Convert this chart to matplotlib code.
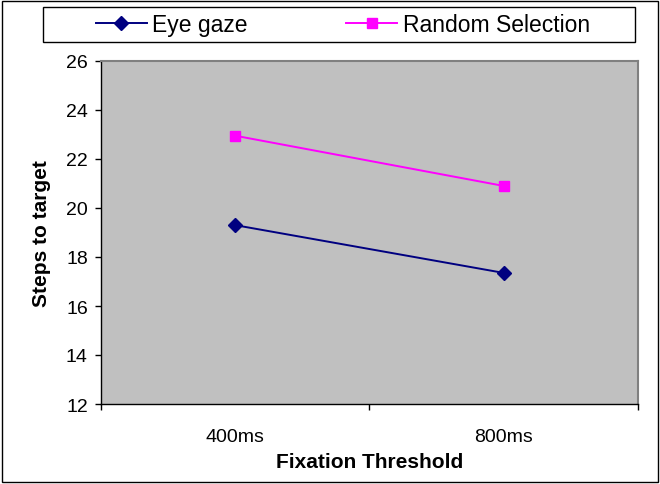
import matplotlib
matplotlib.use("Agg")
import matplotlib.pyplot as plt
from matplotlib.patches import Rectangle

# Data
thresholds = ["400ms", "800ms"]
eye_gaze = [19.3, 17.35]
random_selection = [22.95, 20.9]
y_ticks = [12, 14, 16, 18, 20, 22, 24, 26]

plt.rcParams["font.family"] = ["Liberation Sans", "DejaVu Sans"]

W, H = 660, 485
fig = plt.figure(figsize=(W / 100, H / 100), dpi=100)

def fx(px):
    return px / W

def fy(py):
    return 1 - py / H

left, right, top, bottom = 101, 638, 62, 405
ax = fig.add_axes([fx(left), fy(bottom), fx(right - left), (bottom - top) / H])
ax.set_facecolor("#C0C0C0")

x = list(range(len(thresholds)))
ax.plot(x, eye_gaze, color="#000080", marker="D", markersize=7.5,
        linewidth=1.4, label="Eye gaze")
ax.plot(x, random_selection, color="#FF00FF", marker="s", markersize=7.5,
        linewidth=1.4, label="Random Selection")

ax.set_xlim(-0.5, len(thresholds) - 0.5)
ax.set_ylim(y_ticks[0], y_ticks[-1])
ax.set_yticks(y_ticks)
ax.set_yticklabels([str(v) for v in y_ticks], fontsize=14)

# category boundaries as major ticks, category names as minor ticks
ax.set_xticks([i - 0.5 for i in range(len(thresholds) + 1)])
ax.set_xticklabels([])
ax.set_xticks(x, minor=True)
ax.set_xticklabels(thresholds, minor=True, fontsize=14)
ax.tick_params(axis="x", which="major", direction="out", length=4.5, width=1, color="black")
ax.tick_params(axis="x", which="minor", length=0, pad=17)
ax.tick_params(axis="y", direction="out", length=4.5, width=1, color="black", pad=5)

for s in ("left", "bottom"):
    ax.spines[s].set_color("black")
    ax.spines[s].set_linewidth(1)
for s in ("top", "right"):
    ax.spines[s].set_color("#808080")
    ax.spines[s].set_linewidth(1.5)

ax.set_xlabel("Fixation Threshold", fontsize=15, fontweight="bold", labelpad=5)
ax.set_ylabel("Steps to target", fontsize=15, fontweight="bold", labelpad=11)

# legend frame
fig.patches.append(Rectangle((fx(43), fy(43)), fx(635 - 43), (43 - 8) / H,
                             transform=fig.transFigure, fill=False,
                             edgecolor="black", linewidth=1))
handles, labels = ax.get_legend_handles_labels()
fig.legend(handles, labels, loc="center", bbox_to_anchor=(fx(343), fy(25.5)),
           ncol=2, frameon=False, fontsize=16.5, handlelength=2.2,
           handletextpad=0.25, columnspacing=4.3, borderpad=0)

# outer border
fig.patches.append(Rectangle((fx(2), fy(483)), fx(656), 481 / H,
                             transform=fig.transFigure, fill=False,
                             edgecolor="black", linewidth=1))

fig.savefig("out.png", dpi=100)
